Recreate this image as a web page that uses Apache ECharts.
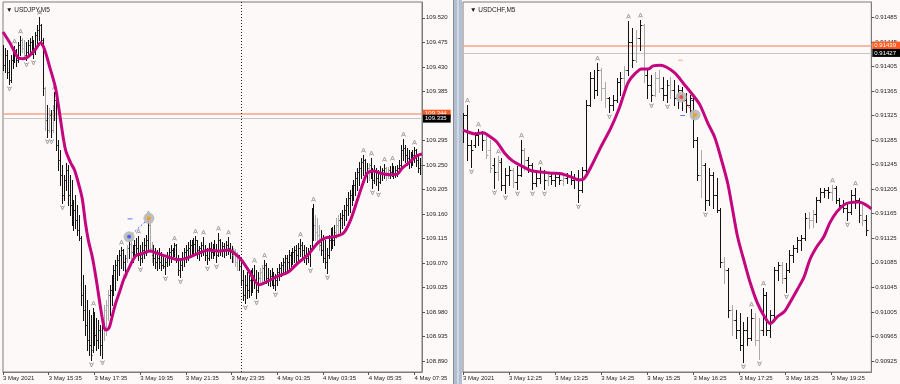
<!DOCTYPE html>
<html><head><meta charset="utf-8">
<script src="https://cdn.jsdelivr.net/npm/echarts@6/dist/echarts.min.js"></script>
<style>html,body{margin:0;padding:0;background:#fdf9f8;}#c{width:900px;height:384px;}</style>
</head><body><div id="c"></div>
<script>
// ---------------- USDJPY, M5 ----------------
const jpyTitle = '\u25BC USDJPY,M5';
const jpyFirstIdx = -24;              // bar index of first row (0 = 3 May 15:35)
const usdjpyBars = [ // [open, high, low, close]
[109.461,109.470,109.424,109.434],[109.434,109.465,109.421,109.452],[109.452,109.461,109.410,109.421],[109.421,109.443,109.399,109.406],
[109.406,109.452,109.402,109.443],[109.443,109.461,109.428,109.458],[109.458,109.469,109.439,109.461],[109.461,109.463,109.432,109.443],
[109.443,109.476,109.439,109.470],[109.470,109.487,109.452,109.480],[109.480,109.483,109.458,109.465],[109.465,109.480,109.447,109.452],
[109.452,109.476,109.443,109.458],[109.458,109.480,109.450,109.470],[109.470,109.483,109.458,109.476],[109.476,109.487,109.454,109.461],
[109.461,109.480,109.447,109.458],[109.458,109.494,109.454,109.489],[109.489,109.507,109.470,109.498],[109.498,109.522,109.480,109.507],
[109.507,109.509,109.470,109.480],[109.480,109.483,109.379,109.391],[109.391,109.393,109.314,109.333],[109.333,109.360,109.301,109.314],
[109.314,109.355,109.311,109.342],[109.342,109.351,109.301,109.314],[109.314,109.360,109.311,109.351],[109.351,109.384,109.333,109.369],
[109.369,109.373,109.278,109.287],[109.287,109.296,109.241,109.259],[109.259,109.278,109.213,109.232],[109.232,109.250,109.180,109.195],
[109.195,109.232,109.186,109.222],[109.222,109.254,109.204,109.241],[109.241,109.250,109.177,109.195],[109.195,109.232,109.158,109.177],
[109.177,109.222,109.140,109.158],[109.158,109.186,109.131,109.167],[109.167,109.195,109.134,109.149],[109.149,109.177,109.121,109.131],
[109.131,109.158,109.112,109.116],[109.116,109.120,108.993,109.011],[109.011,109.048,108.965,108.984],[108.984,109.030,108.938,108.956],
[108.956,109.002,108.910,108.929],[108.929,108.984,108.901,108.919],[108.919,108.974,108.892,108.901],[108.910,108.987,108.907,108.965],
[108.965,108.980,108.919,108.938],[108.938,108.969,108.910,108.929],[108.929,108.965,108.914,108.947],[108.947,108.956,108.901,108.919],
[108.919,108.965,108.896,108.956],[108.956,108.993,108.929,108.984],[108.984,109.002,108.938,108.993],[108.993,109.020,108.965,109.011],
[109.011,109.030,108.974,109.020],[109.020,109.048,108.993,109.039],[109.039,109.066,109.011,109.057],[109.057,109.076,109.020,109.066],
[109.066,109.085,109.039,109.076],[109.076,109.094,109.048,109.085],[109.085,109.099,109.061,109.094],[109.094,109.096,109.057,109.072],
[109.072,109.085,109.053,109.079],[109.079,109.103,109.072,109.098],[109.098,109.112,109.079,109.105],[109.105,109.109,109.076,109.090],
[109.090,109.103,109.072,109.094],[109.094,109.112,109.079,109.103],[109.103,109.116,109.085,109.098],[109.098,109.120,109.076,109.085],
[109.085,109.103,109.066,109.079],[109.079,109.109,109.072,109.094],[109.094,109.116,109.079,109.103],[109.103,109.121,109.085,109.112],
[109.112,109.153,109.094,109.140],[109.140,109.145,109.090,109.098],[109.098,109.109,109.072,109.085],[109.085,109.103,109.066,109.079],
[109.079,109.098,109.061,109.072],[109.072,109.094,109.057,109.079],[109.079,109.098,109.061,109.072],[109.072,109.090,109.057,109.066],
[109.066,109.085,109.061,109.064],[109.064,109.079,109.050,109.072],[109.072,109.090,109.064,109.079],[109.079,109.098,109.066,109.090],
[109.090,109.103,109.072,109.094],[109.094,109.098,109.079,109.096],[109.096,109.107,109.083,109.103],[109.103,109.105,109.072,109.079],
[109.079,109.085,109.048,109.057],[109.057,109.079,109.044,109.066],[109.066,109.090,109.057,109.079],[109.079,109.098,109.064,109.090],
[109.090,109.103,109.072,109.094],[109.094,109.109,109.076,109.098],[109.098,109.112,109.083,109.103],[109.103,109.112,109.085,109.098],
[109.098,109.116,109.087,109.105],[109.105,109.120,109.090,109.112],[109.112,109.112,109.079,109.094],[109.094,109.101,109.076,109.098],
[109.098,109.109,109.083,109.103],[109.103,109.118,109.085,109.094],[109.094,109.103,109.076,109.085],[109.085,109.098,109.068,109.079],
[109.079,109.107,109.076,109.098],[109.098,109.109,109.079,109.090],[109.090,109.105,109.079,109.101],[109.101,109.112,109.085,109.094],
[109.094,109.105,109.072,109.085],[109.085,109.125,109.083,109.112],[109.112,109.114,109.085,109.094],[109.094,109.109,109.083,109.101],
[109.101,109.107,109.081,109.094],[109.094,109.110,109.085,109.103],[109.103,109.118,109.087,109.098],[109.098,109.107,109.079,109.090],
[109.090,109.101,109.072,109.085],[109.085,109.098,109.072,109.094],[109.094,109.096,109.064,109.072],[109.072,109.090,109.057,109.083],
[109.083,109.085,109.057,109.064],[109.064,109.072,109.030,109.039],[109.039,109.057,109.002,109.011],[109.011,109.048,108.997,109.030],
[109.030,109.053,109.006,109.020],[109.020,109.048,109.007,109.039],[109.039,109.057,109.011,109.024],[109.024,109.061,109.017,109.048],
[109.048,109.066,109.024,109.039],[109.039,109.057,109.006,109.020],[109.020,109.053,109.017,109.042],[109.042,109.061,109.030,109.053],
[109.053,109.066,109.035,109.061],[109.061,109.076,109.039,109.066],[109.066,109.070,109.033,109.042],[109.042,109.061,109.030,109.039],
[109.039,109.057,109.028,109.046],[109.046,109.061,109.030,109.035],[109.035,109.053,109.024,109.030],[109.030,109.050,109.020,109.039],
[109.039,109.061,109.030,109.053],[109.053,109.068,109.039,109.061],[109.061,109.072,109.046,109.066],[109.066,109.079,109.050,109.072],
[109.072,109.085,109.053,109.079],[109.079,109.085,109.057,109.072],[109.072,109.094,109.061,109.085],[109.085,109.090,109.064,109.079],
[109.079,109.098,109.068,109.090],[109.090,109.101,109.072,109.094],[109.094,109.103,109.072,109.085],[109.085,109.107,109.076,109.098],
[109.098,109.114,109.083,109.103],[109.103,109.109,109.079,109.094],[109.094,109.103,109.072,109.085],[109.085,109.099,109.068,109.079],
[109.079,109.098,109.072,109.090],[109.090,109.103,109.064,109.098],[109.098,109.171,109.094,109.158],[109.158,109.178,109.112,109.140],
[109.140,109.158,109.112,109.127],[109.127,109.153,109.109,109.121],[109.121,109.140,109.094,109.103],[109.103,109.131,109.085,109.094],
[109.094,109.121,109.072,109.079],[109.079,109.112,109.061,109.072],[109.072,109.098,109.052,109.085],[109.085,109.121,109.079,109.112],
[109.112,109.134,109.094,109.121],[109.121,109.136,109.098,109.112],[109.112,109.140,109.103,109.127],[109.127,109.153,109.116,109.140],
[109.140,109.158,109.121,109.149],[109.149,109.162,109.127,109.153],[109.153,109.167,109.134,109.158],[109.158,109.177,109.140,109.167],
[109.167,109.189,109.149,109.177],[109.177,109.200,109.158,109.189],[109.189,109.204,109.164,109.195],[109.195,109.213,109.177,109.204],
[109.204,109.222,109.186,109.213],[109.213,109.237,109.195,109.226],[109.226,109.244,109.204,109.237],[109.237,109.256,109.213,109.244],
[109.244,109.263,109.226,109.256],[109.256,109.268,109.232,109.259],[109.259,109.261,109.226,109.237],[109.237,109.254,109.219,109.244],
[109.244,109.254,109.222,109.250],[109.250,109.263,109.226,109.232],[109.232,109.244,109.208,109.222],[109.222,109.250,109.217,109.241],
[109.241,109.244,109.213,109.226],[109.226,109.241,109.204,109.219],[109.219,109.248,109.217,109.237],[109.237,109.244,109.222,109.241],
[109.241,109.252,109.226,109.244],[109.244,109.246,109.222,109.232],[109.232,109.246,109.226,109.241],[109.241,109.248,109.226,109.237],
[109.237,109.254,109.230,109.244],[109.244,109.248,109.226,109.233],[109.233,109.248,109.228,109.241],[109.241,109.250,109.230,109.244],
[109.244,109.259,109.237,109.250],[109.250,109.287,109.244,109.278],[109.278,109.298,109.259,109.281],[109.281,109.287,109.255,109.268],
[109.268,109.281,109.250,109.263],[109.263,109.278,109.244,109.256],[109.256,109.274,109.246,109.263],[109.263,109.278,109.250,109.268],
[109.268,109.283,109.255,109.278],[109.278,109.279,109.248,109.259],[109.259,109.268,109.237,109.244],[109.244,109.263,109.233,109.250]
];
const jpyGreyBars = [-14,-13,-2,0,2,29,30,31,41,43,53,54,97,98,99,111,112,140,141,142,151,152,168,177,178];
const jpyFractalsUp = [-18,-15,-5,3,23,38,42,47,52,66,77,81,89,94,108,113,132,139,165,169,176,180,186,192];
const jpyFractalsDown = [-21,-12,-8,-1,1,7,22,28,40,48,61,69,83,88,103,109,119,137,146,170,173];
const usdjpyMA = [[-24,109.494],[-20.4,109.474],[-16.2,109.447],[-13.6,109.445],[-11,109.448],[-6.8,109.463],[-4.2,109.474],[-2.1,109.461],
[0.5,109.430],[3.6,109.391],[6.2,109.333],[8.8,109.278],[11.5,109.254],[13.5,109.241],[16.1,109.210],[17.7,109.186],[19.3,109.143],
[20.8,109.112],[22.9,109.081],[25,109.039],[26.6,109.002],[28.1,108.969],[29.2,108.951],[30.2,108.947],[31.8,108.952],[33.4,108.973],
[34.9,108.993],[37.5,109.020],[39.6,109.042],[42.2,109.061],[44.3,109.076],[46.4,109.085],[49,109.087],[51.1,109.090],[53.2,109.092],
[56.8,109.088],[59.4,109.085],[64.6,109.079],[68.3,109.076],[72.5,109.079],[76.6,109.085],[80.3,109.090],[83.9,109.094],[89.1,109.092],
[94.4,109.094],[97.5,109.088],[101.1,109.076],[104.8,109.057],[107.9,109.039],[110.5,109.030],[115.2,109.037],[120.4,109.046],
[125.6,109.053],[130.8,109.070],[136.1,109.085],[141.3,109.107],[145.4,109.116],[149.6,109.118],[154.8,109.125],[158.5,109.149],
[162.1,109.186],[164.7,109.213],[167.3,109.235],[170.5,109.239],[174.1,109.235],[179.3,109.232],[183,109.233],[185.6,109.244],
[189.8,109.256],[193.4,109.267],[196,109.270]];
const jpyTimeTicks = [-24,0,24,48,72,96,120,144,168,192];
const jpyTimeLabels = ['3 May 2021','3 May 15:35','3 May 17:35','3 May 19:35','3 May 21:35','3 May 23:35','4 May 01:35','4 May 03:35','4 May 05:35','4 May 07:35'];
const jpyPriceTicks = [108.890,108.935,108.980,109.025,109.070,109.115,109.160,109.205,109.250,109.295,109.340,109.385,109.430,109.475,109.520];
const jpyAsk = 109.344, jpyBid = 109.335;
const jpyDaySeparator = 101;
const jpyTradeMarks = [[42.2,109.118,'#2f4cff'],[52.6,109.152,'#ff9a00']];
const jpyDashMarks = [[42.7,109.151,'#3a55ff']];

// ---------------- USDCHF, M5 ----------------
const chfTitle = '\u25BC USDCHF,M5';
const chfFirstIdx = -12;              // bar index of first row (0 = 3 May 12:25)
const usdchfBars = [
[0.91293,0.91329,0.91282,0.91326],[0.91326,0.91342,0.91252,0.91277],[0.91277,0.91285,0.91241,0.91269],[0.91277,0.91298,0.91274,0.91293],
[0.91293,0.91303,0.91277,0.91297],[0.91297,0.91300,0.91269,0.91285],[0.91285,0.91293,0.91256,0.91261],[0.91269,0.91285,0.91233,0.91239],
[0.91244,0.91256,0.91207,0.91233],[0.91233,0.91259,0.91220,0.91252],[0.91249,0.91256,0.91204,0.91212],[0.91212,0.91239,0.91199,0.91228],
[0.91228,0.91243,0.91212,0.91236],[0.91236,0.91239,0.91209,0.91217],[0.91217,0.91243,0.91205,0.91228],[0.91228,0.91285,0.91226,0.91269],
[0.91269,0.91272,0.91236,0.91252],[0.91252,0.91257,0.91233,0.91244],[0.91244,0.91248,0.91205,0.91215],[0.91215,0.91233,0.91210,0.91223],
[0.91223,0.91241,0.91215,0.91233],[0.91233,0.91236,0.91205,0.91220],[0.91220,0.91231,0.91212,0.91226],[0.91226,0.91233,0.91213,0.91220],
[0.91220,0.91230,0.91210,0.91225],[0.91225,0.91233,0.91213,0.91220],[0.91220,0.91230,0.91212,0.91223],[0.91223,0.91231,0.91215,0.91226],
[0.91226,0.91235,0.91213,0.91220],[0.91220,0.91230,0.91207,0.91223],[0.91223,0.91236,0.91184,0.91204],[0.91204,0.91241,0.91200,0.91236],
[0.91236,0.91350,0.91233,0.91342],[0.91342,0.91396,0.91340,0.91386],[0.91386,0.91399,0.91353,0.91367],[0.91367,0.91410,0.91358,0.91399],
[0.91399,0.91402,0.91350,0.91370],[0.91370,0.91380,0.91339,0.91353],[0.91353,0.91355,0.91331,0.91342],[0.91342,0.91358,0.91334,0.91350],
[0.91350,0.91386,0.91347,0.91380],[0.91380,0.91396,0.91358,0.91386],[0.91386,0.91406,0.91371,0.91399],[0.91399,0.91479,0.91391,0.91445],
[0.91445,0.91467,0.91404,0.91415],[0.91415,0.91464,0.91412,0.91451],[0.91451,0.91480,0.91432,0.91472],[0.91472,0.91474,0.91380,0.91391],
[0.91391,0.91399,0.91353,0.91375],[0.91375,0.91391,0.91349,0.91358],[0.91358,0.91396,0.91357,0.91386],[0.91386,0.91399,0.91363,0.91370],
[0.91370,0.91388,0.91350,0.91358],[0.91358,0.91383,0.91347,0.91375],[0.91375,0.91388,0.91353,0.91367],[0.91367,0.91383,0.91342,0.91353],
[0.91353,0.91375,0.91337,0.91367],[0.91367,0.91371,0.91334,0.91350],[0.91350,0.91362,0.91331,0.91342],[0.91342,0.91358,0.91329,0.91353],
[0.91350,0.91353,0.91274,0.91285],[0.91285,0.91290,0.91220,0.91228],[0.91228,0.91269,0.91192,0.91244],[0.91244,0.91248,0.91171,0.91187],
[0.91187,0.91239,0.91179,0.91228],[0.91228,0.91233,0.91174,0.91196],[0.91196,0.91223,0.91168,0.91171],[0.91171,0.91174,0.91078,0.91086],
[0.91086,0.91095,0.91052,0.91073],[0.91073,0.91077,0.90997,0.91008],[0.91008,0.91016,0.90968,0.90992],[0.90992,0.91008,0.90963,0.90976],
[0.90976,0.91003,0.90943,0.90951],[0.90951,0.90989,0.90924,0.90976],[0.90976,0.90997,0.90951,0.90963],[0.90963,0.91010,0.90959,0.90995],
[0.90995,0.91003,0.90951,0.90959],[0.90959,0.90995,0.90928,0.90976],[0.90976,0.91044,0.90968,0.91033],[0.91033,0.91038,0.90968,0.90976],
[0.90976,0.91008,0.90964,0.91000],[0.91000,0.91078,0.90995,0.91073],[0.91073,0.91086,0.91057,0.91082],[0.91082,0.91086,0.91052,0.91060],
[0.91060,0.91085,0.91038,0.91073],[0.91073,0.91106,0.91070,0.91098],[0.91098,0.91114,0.91086,0.91109],[0.91109,0.91127,0.91103,0.91122],
[0.91122,0.91130,0.91106,0.91126],[0.91126,0.91166,0.91122,0.91158],[0.91158,0.91168,0.91142,0.91155],[0.91155,0.91171,0.91143,0.91165],
[0.91165,0.91192,0.91152,0.91187],[0.91187,0.91207,0.91184,0.91200],[0.91200,0.91207,0.91192,0.91204],[0.91204,0.91209,0.91191,0.91200],
[0.91200,0.91212,0.91187,0.91207],[0.91207,0.91210,0.91183,0.91187],[0.91187,0.91191,0.91171,0.91179],[0.91179,0.91187,0.91168,0.91174],
[0.91174,0.91184,0.91155,0.91168],[0.91168,0.91204,0.91165,0.91196],[0.91196,0.91207,0.91174,0.91187],[0.91187,0.91191,0.91152,0.91163],
[0.91163,0.91179,0.91147,0.91155],[0.91155,0.91163,0.91130,0.91139]
];
const chfGreyBars = [-6,-5,-3,1,4,10,14,24,25,30,33,35,38,39,42,50,56,58,64,65,71,78,79,84,92];
const chfFractalsUp = [-11,-8,-3,3,8,23,31,34,63,66,84,90];
const chfFractalsDown = [-10,-4,-1,2,6,9,18,26,37,41,51,61,65,72,88];
const usdchfMA = [[-12,0.91301],[-11.5,0.91300],[-8.9,0.91295],[-6.8,0.91297],[-5.5,0.91293],[-3.2,0.91282],[-1.2,0.91264],[0.9,0.91251],
[3.2,0.91243],[5.8,0.91235],[8.4,0.91233],[11,0.91231],[13.5,0.91230],[16.1,0.91225],[18.2,0.91220],[19.5,0.91222],[21.3,0.91241],
[23.9,0.91274],[26.5,0.91305],[28.5,0.91334],[29.8,0.91358],[31.1,0.91380],[32.9,0.91394],[34.5,0.91401],[36.3,0.91401],[37.5,0.91406],
[39.4,0.91407],[40.9,0.91404],[43.2,0.91394],[45.3,0.91378],[47.9,0.91358],[49.7,0.91342],[51.7,0.91313],[53.5,0.91290],[55.1,0.91257],
[56.9,0.91215],[58.2,0.91171],[59.5,0.91127],[61.3,0.91085],[62.8,0.91052],[64.6,0.91020],[66.5,0.90997],[68,0.90986],[69.8,0.90997],
[71.6,0.91005],[73.2,0.91021],[75,0.91041],[76.8,0.91062],[78.3,0.91090],[80.1,0.91111],[81.9,0.91127],[83.5,0.91150],[85.3,0.91168],
[87.1,0.91179],[88.6,0.91183],[91,0.91184],[93,0.91179],[94.3,0.91173]];
const chfTimeTicks = [-12,0,12,24,36,48,60,72,84];
const chfTimeLabels = ['3 May 2021','3 May 12:25','3 May 13:25','3 May 14:25','3 May 15:25','3 May 16:25','3 May 17:25','3 May 18:25','3 May 19:25'];
const chfPriceTicks = [0.90925,0.90965,0.91005,0.91045,0.91085,0.91125,0.91165,0.91205,0.91245,0.91285,0.91325,0.91365,0.91405,0.91445,0.91485];
const chfAsk = 0.91439, chfBid = 0.91427;
const chfTradeMarks = [[44.8,0.91355,'#ff2a2a'],[48.4,0.91326,'#ff9a00']];
const chfDashMarks = [[45.2,0.91325,'#3a55ff'],[44.6,0.91415,'#f59a8a']];

// ---------------- build ----------------
const FONT = 'Liberation Sans';
const BG = '#fdf9f8';

function barData(rows, first, grey) {
  return rows.map((r, i) => { const x = first + i; return [x, r[0], r[1], r[2], r[3], grey.indexOf(x) >= 0 ? 1 : 0]; });
}
function fractalData(rows, first, ups, downs) {
  const out = [];
  ups.forEach(x => { const r = rows[x - first]; if (r) out.push([x, r[1], 1]); });
  downs.forEach(x => { const r = rows[x - first]; if (r) out.push([x, r[2], -1]); });
  return out;
}
function renderBar(params, api) {
  const x = api.value(0);
  const o = api.coord([x, api.value(1)]), h = api.coord([x, api.value(2)]);
  const l = api.coord([x, api.value(3)]), c = api.coord([x, api.value(4)]);
  const w = api.size([1, 0])[0];
  const t = Math.max(1, Math.round(w * 0.4));
  const px = Math.round(h[0]) + 0.5;
  const st = { stroke: api.value(5) ? '#a9a9a9' : '#121212', lineWidth: 1 };
  const oy = Math.round(o[1]) + 0.5, cy = Math.round(c[1]) + 0.5;
  return { type: 'group', children: [
    { type: 'line', shape: { x1: px, y1: Math.round(h[1]), x2: px, y2: Math.round(l[1]) + 1 }, style: st },
    { type: 'line', shape: { x1: px - t, y1: oy, x2: px, y2: oy }, style: st },
    { type: 'line', shape: { x1: px, y1: cy, x2: px + t, y2: cy }, style: st }
  ]};
}
function renderFractal(params, api) {
  const p = api.coord([api.value(0), api.value(1)]);
  const x = Math.round(p[0]) + 0.5;
  const st = { stroke: '#a2a2a2', fill: null, lineWidth: 1 };
  if (api.value(2) > 0) {
    const y = Math.round(p[1]) - 5;
    return { type: 'group', children: [
      { type: 'polyline', shape: { points: [[x - 2, y + 2.5], [x, y - 2], [x + 2, y + 2.5]] }, style: st },
      { type: 'line', shape: { x1: x - 1, y1: y + 1.5, x2: x + 1, y2: y + 1.5 }, style: st } ]};
  }
  const y = Math.round(p[1]) + 5;
  return { type: 'group', children: [
    { type: 'polyline', shape: { points: [[x - 2, y - 2.5], [x, y + 2], [x + 2, y - 2.5]] }, style: st },
    { type: 'line', shape: { x1: x - 1, y1: y - 1.5, x2: x + 1, y2: y - 1.5 }, style: st } ]};
}
function priceLabel(txt, bg) {
  return { show: true, position: 'end', formatter: txt, backgroundColor: bg, color: '#fff',
    fontSize: 6, fontFamily: FONT, padding: [1, 4, 1, 2], distance: 1 };
}
function xAxisCfg(gi, min, max, ticks, labels) {
  return { type: 'value', gridIndex: gi, min: min, max: max, splitLine: { show: false },
    axisLine: { show: true, onZero: false, lineStyle: { color: '#7c7c7c', width: 1 } },
    axisTick: { show: true, customValues: ticks, length: 3, lineStyle: { color: '#555' } },
    axisLabel: { show: true, customValues: ticks, align: 'left', margin: 3, fontSize: 6, fontFamily: FONT, color: '#1e1e1e',
      formatter: v => { const i = ticks.indexOf(Math.round(v)); return i >= 0 ? labels[i] : ''; } } };
}
function yAxisCfg(gi, min, max, ticks, dec) {
  return { type: 'value', gridIndex: gi, position: 'right', min: min, max: max, splitLine: { show: false },
    axisLine: { show: true, onZero: false, lineStyle: { color: '#7c7c7c', width: 1 } },
    axisTick: { show: true, customValues: ticks, length: 3, lineStyle: { color: '#555' } },
    axisLabel: { show: true, customValues: ticks, margin: 4, fontSize: 6, fontFamily: FONT, color: '#1e1e1e',
      formatter: v => v.toFixed(dec) } };
}
function panelSeries(ai, rows, first, grey, ups, downs, ma, ask, bid, dec, sep, trades, dashes, tradeLine) {
  const ml = [
    { yAxis: ask, lineStyle: { color: '#f6a488', width: 1.5, type: 'solid' }, label: priceLabel(ask.toFixed(dec), '#ff5b22') },
    { yAxis: bid, lineStyle: { color: '#c6c6c6', width: 1, type: 'solid' }, label: priceLabel(bid.toFixed(dec), '#000000') }
  ];
  if (sep != null) ml.push({ xAxis: sep, lineStyle: { color: '#222', width: 1, type: [1, 2] }, label: { show: false } });
  return [
    { type: 'custom', xAxisIndex: ai, yAxisIndex: ai, renderItem: renderBar, clip: true, silent: true,
      encode: { x: 0, y: [1, 2, 3, 4] }, data: barData(rows, first, grey), z: 2 },
    { type: 'custom', xAxisIndex: ai, yAxisIndex: ai, renderItem: renderFractal, clip: true, silent: true,
      encode: { x: 0, y: 1 }, data: fractalData(rows, first, ups, downs), z: 2 },
    { type: 'line', xAxisIndex: ai, yAxisIndex: ai, data: ma, smooth: 0.3, symbol: 'none', silent: true, clip: true,
      lineStyle: { color: '#c4067e', width: 3 }, z: 4,
      markLine: { silent: true, symbol: 'none', animation: false, precision: 6, data: ml, z: 1 } },
    { type: 'line', xAxisIndex: ai, yAxisIndex: ai, data: trades.map(t => [t[0], t[1]]), symbol: 'none', silent: true,
      lineStyle: { color: tradeLine, width: 1, type: [2, 2] }, z: 5 },
    { type: 'scatter', xAxisIndex: ai, yAxisIndex: ai, data: trades.map(t => [t[0], t[1]]), symbolSize: 11, silent: true,
      itemStyle: { color: '#b8b8b8', opacity: 0.9 }, z: 6 },
    { type: 'scatter', xAxisIndex: ai, yAxisIndex: ai, silent: true, z: 7, symbolSize: 4,
      data: trades.map(t => ({ value: [t[0], t[1]], itemStyle: { color: t[2] } })) },
    { type: 'scatter', xAxisIndex: ai, yAxisIndex: ai, silent: true, z: 7, symbol: 'rect', symbolSize: [5, 1],
      data: dashes.map(t => ({ value: [t[0], t[1]], itemStyle: { color: t[2] } })) }
  ];
}

const chart = echarts.init(document.getElementById('c'), null, { renderer: 'canvas' });
chart.setOption({
  backgroundColor: BG,
  animation: false,
  textStyle: { fontFamily: FONT },
  title: [
    { text: jpyTitle, left: 1, top: 2, textStyle: { fontSize: 6.5, fontWeight: 'normal', color: '#1a1a1a', fontFamily: FONT } },
    { text: chfTitle, left: 465, top: 2, textStyle: { fontSize: 6.5, fontWeight: 'normal', color: '#1a1a1a', fontFamily: FONT } }
  ],
  grid: [
    { left: 0, top: 2, width: 422, height: 370, show: true, borderColor: '#7c7c7c', borderWidth: 1, backgroundColor: BG },
    { left: 463, top: 2, width: 412, height: 370, show: true, borderColor: '#7c7c7c', borderWidth: 1, backgroundColor: BG }
  ],
  xAxis: [
    xAxisCfg(0, -24, 196, jpyTimeTicks, jpyTimeLabels),
    xAxisCfg(1, -12, 94.3, chfTimeTicks, chfTimeLabels)
  ],
  yAxis: [
    yAxisCfg(0, 108.870, 109.549, jpyPriceTicks, 3),
    yAxisCfg(1, 0.90907, 0.91510, chfPriceTicks, 5)
  ],
  graphic: [
    { type: 'rect', shape: { x: 453, y: 0, width: 1, height: 384 }, style: { fill: '#8c8c8c' }, silent: true },
    { type: 'rect', shape: { x: 454, y: 0, width: 8, height: 384 }, style: { fill: '#b2bfd2' }, silent: true },
    { type: 'rect', shape: { x: 457, y: 0, width: 2, height: 384 }, style: { fill: '#cfd8e5' }, silent: true }
  ],
  series: [].concat(
    panelSeries(0, usdjpyBars, jpyFirstIdx, jpyGreyBars, jpyFractalsUp, jpyFractalsDown, usdjpyMA, jpyAsk, jpyBid, 3,
      jpyDaySeparator, jpyTradeMarks, jpyDashMarks, '#3355ff'),
    panelSeries(1, usdchfBars, chfFirstIdx, chfGreyBars, chfFractalsUp, chfFractalsDown, usdchfMA, chfAsk, chfBid, 5,
      null, chfTradeMarks, chfDashMarks, '#ff3030')
  )
});
</script>
</body></html>
